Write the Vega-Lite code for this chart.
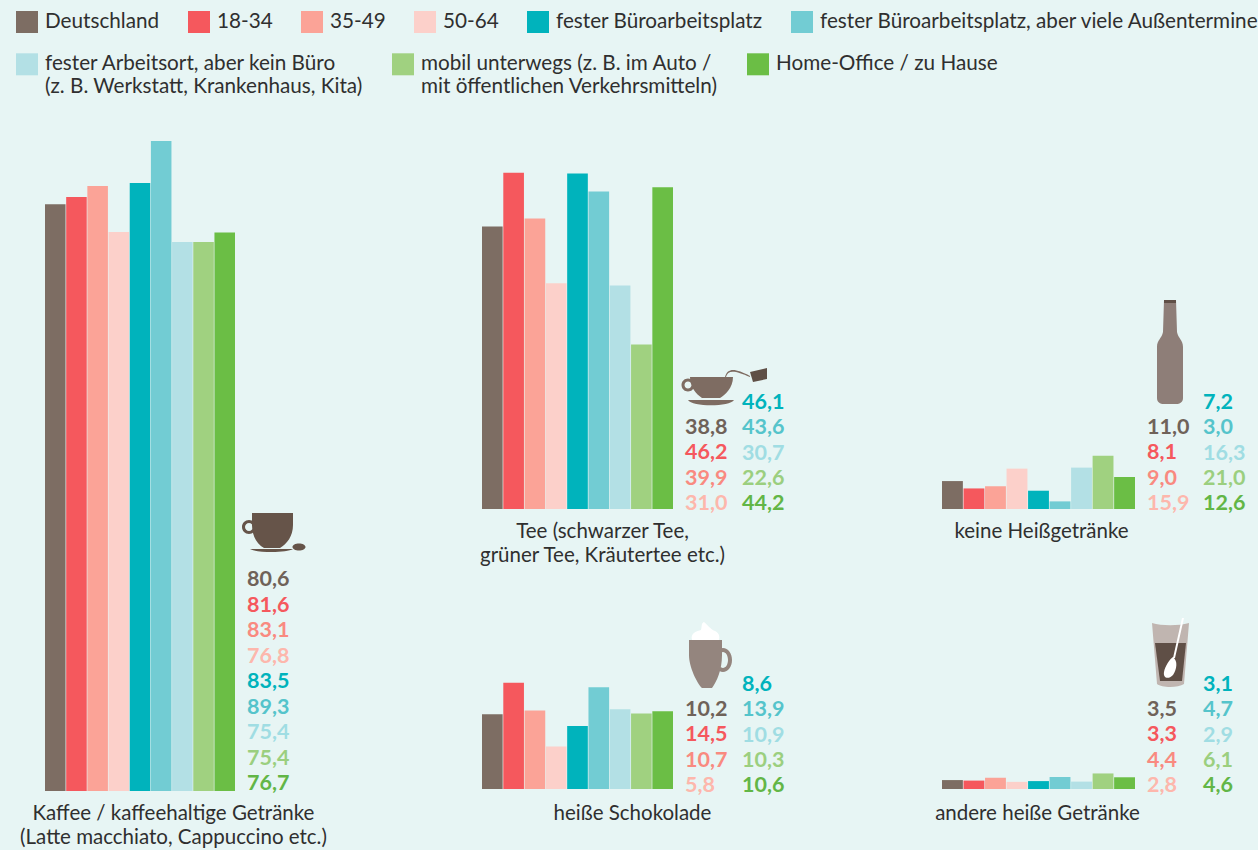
{"$schema":"https://vega.github.io/schema/vega-lite/v6.json","padding":{"left":16,"top":11,"right":2,"bottom":2},"background":"#e7f5f4","spacing":20,"resolve":{"scale":{"color":"shared","stroke":"shared"}},"config":{"font":"Lato","view":{"stroke":null},"axis":{"ticks":false,"labels":false,"domain":false,"grid":false,"titleFontWeight":"normal","titleFontSize":20.5,"titleColor":"#2f2f2f","titleLineHeight":24,"titleAlign":"center","titleBaseline":"alphabetic"},"text":{"fontWeight":"bold","fontSize":21.5,"align":"left","baseline":"middle"},"legend":{"orient":"none","legendX":-29,"direction":"horizontal","title":null,"symbolType":"square","symbolOpacity":1,"labelFontSize":20.7,"labelColor":"#2f2f2f","labelOffset":7,"labelLimit":600,"rowPadding":20,"labelBaseline":"middle"}},"datasets":{"werte":[
{"getraenk":"Kaffee","serie":"Deutschland","gruppe":"Gesamt und Alter","wert":80.6,"beschriftung":"80,6"},
{"getraenk":"Kaffee","serie":"18-34","gruppe":"Gesamt und Alter","wert":81.6,"beschriftung":"81,6"},
{"getraenk":"Kaffee","serie":"35-49","gruppe":"Gesamt und Alter","wert":83.1,"beschriftung":"83,1"},
{"getraenk":"Kaffee","serie":"50-64","gruppe":"Gesamt und Alter","wert":76.8,"beschriftung":"76,8"},
{"getraenk":"Kaffee","serie":"fester Büroarbeitsplatz","gruppe":"Arbeitsort","wert":83.5,"beschriftung":"83,5"},
{"getraenk":"Kaffee","serie":"fester Büroarbeitsplatz, aber viele Außentermine","gruppe":"Arbeitsort","wert":89.3,"beschriftung":"89,3"},
{"getraenk":"Kaffee","serie":"fester Arbeitsort, aber kein Büro","gruppe":"Arbeitsort","wert":75.4,"beschriftung":"75,4"},
{"getraenk":"Kaffee","serie":"mobil unterwegs","gruppe":"Arbeitsort","wert":75.4,"beschriftung":"75,4"},
{"getraenk":"Kaffee","serie":"Home-Office / zu Hause","gruppe":"Arbeitsort","wert":76.7,"beschriftung":"76,7"},
{"getraenk":"Tee","serie":"Deutschland","gruppe":"Gesamt und Alter","wert":38.8,"beschriftung":"38,8"},
{"getraenk":"Tee","serie":"18-34","gruppe":"Gesamt und Alter","wert":46.2,"beschriftung":"46,2"},
{"getraenk":"Tee","serie":"35-49","gruppe":"Gesamt und Alter","wert":39.9,"beschriftung":"39,9"},
{"getraenk":"Tee","serie":"50-64","gruppe":"Gesamt und Alter","wert":31.0,"beschriftung":"31,0"},
{"getraenk":"Tee","serie":"fester Büroarbeitsplatz","gruppe":"Arbeitsort","wert":46.1,"beschriftung":"46,1"},
{"getraenk":"Tee","serie":"fester Büroarbeitsplatz, aber viele Außentermine","gruppe":"Arbeitsort","wert":43.6,"beschriftung":"43,6"},
{"getraenk":"Tee","serie":"fester Arbeitsort, aber kein Büro","gruppe":"Arbeitsort","wert":30.7,"beschriftung":"30,7"},
{"getraenk":"Tee","serie":"mobil unterwegs","gruppe":"Arbeitsort","wert":22.6,"beschriftung":"22,6"},
{"getraenk":"Tee","serie":"Home-Office / zu Hause","gruppe":"Arbeitsort","wert":44.2,"beschriftung":"44,2"},
{"getraenk":"Schokolade","serie":"Deutschland","gruppe":"Gesamt und Alter","wert":10.2,"beschriftung":"10,2"},
{"getraenk":"Schokolade","serie":"18-34","gruppe":"Gesamt und Alter","wert":14.5,"beschriftung":"14,5"},
{"getraenk":"Schokolade","serie":"35-49","gruppe":"Gesamt und Alter","wert":10.7,"beschriftung":"10,7"},
{"getraenk":"Schokolade","serie":"50-64","gruppe":"Gesamt und Alter","wert":5.8,"beschriftung":"5,8"},
{"getraenk":"Schokolade","serie":"fester Büroarbeitsplatz","gruppe":"Arbeitsort","wert":8.6,"beschriftung":"8,6"},
{"getraenk":"Schokolade","serie":"fester Büroarbeitsplatz, aber viele Außentermine","gruppe":"Arbeitsort","wert":13.9,"beschriftung":"13,9"},
{"getraenk":"Schokolade","serie":"fester Arbeitsort, aber kein Büro","gruppe":"Arbeitsort","wert":10.9,"beschriftung":"10,9"},
{"getraenk":"Schokolade","serie":"mobil unterwegs","gruppe":"Arbeitsort","wert":10.3,"beschriftung":"10,3"},
{"getraenk":"Schokolade","serie":"Home-Office / zu Hause","gruppe":"Arbeitsort","wert":10.6,"beschriftung":"10,6"},
{"getraenk":"keine","serie":"Deutschland","gruppe":"Gesamt und Alter","wert":11.0,"beschriftung":"11,0"},
{"getraenk":"keine","serie":"18-34","gruppe":"Gesamt und Alter","wert":8.1,"beschriftung":"8,1"},
{"getraenk":"keine","serie":"35-49","gruppe":"Gesamt und Alter","wert":9.0,"beschriftung":"9,0"},
{"getraenk":"keine","serie":"50-64","gruppe":"Gesamt und Alter","wert":15.9,"beschriftung":"15,9"},
{"getraenk":"keine","serie":"fester Büroarbeitsplatz","gruppe":"Arbeitsort","wert":7.2,"beschriftung":"7,2"},
{"getraenk":"keine","serie":"fester Büroarbeitsplatz, aber viele Außentermine","gruppe":"Arbeitsort","wert":3.0,"beschriftung":"3,0"},
{"getraenk":"keine","serie":"fester Arbeitsort, aber kein Büro","gruppe":"Arbeitsort","wert":16.3,"beschriftung":"16,3"},
{"getraenk":"keine","serie":"mobil unterwegs","gruppe":"Arbeitsort","wert":21.0,"beschriftung":"21,0"},
{"getraenk":"keine","serie":"Home-Office / zu Hause","gruppe":"Arbeitsort","wert":12.6,"beschriftung":"12,6"},
{"getraenk":"andere","serie":"Deutschland","gruppe":"Gesamt und Alter","wert":3.5,"beschriftung":"3,5"},
{"getraenk":"andere","serie":"18-34","gruppe":"Gesamt und Alter","wert":3.3,"beschriftung":"3,3"},
{"getraenk":"andere","serie":"35-49","gruppe":"Gesamt und Alter","wert":4.4,"beschriftung":"4,4"},
{"getraenk":"andere","serie":"50-64","gruppe":"Gesamt und Alter","wert":2.8,"beschriftung":"2,8"},
{"getraenk":"andere","serie":"fester Büroarbeitsplatz","gruppe":"Arbeitsort","wert":3.1,"beschriftung":"3,1"},
{"getraenk":"andere","serie":"fester Büroarbeitsplatz, aber viele Außentermine","gruppe":"Arbeitsort","wert":4.7,"beschriftung":"4,7"},
{"getraenk":"andere","serie":"fester Arbeitsort, aber kein Büro","gruppe":"Arbeitsort","wert":2.9,"beschriftung":"2,9"},
{"getraenk":"andere","serie":"mobil unterwegs","gruppe":"Arbeitsort","wert":6.1,"beschriftung":"6,1"},
{"getraenk":"andere","serie":"Home-Office / zu Hause","gruppe":"Arbeitsort","wert":4.6,"beschriftung":"4,6"}
]},
"hconcat":[
{"width":413,"height":655,"data":{"name":"werte"},"transform":[{"filter":"datum.getraenk==='Kaffee'"}],"resolve":{"scale":{"x":"independent","y":"independent"}},"layer":[
{"mark":{"type":"bar","strokeWidth":0},"encoding":{"x":{"field":"serie","type":"nominal","sort":null,"scale":{"range":[0,190],"paddingInner":0.03,"paddingOuter":0},"axis":{"title":["Kaffee / kaffeehaltige Getränke","(Latte macchiato, Cappuccino etc.)"],"titleX":128,"titleY":28}},"y":{"field":"wert","type":"quantitative","scale":{"domain":[0,89.97],"nice":false},"axis":null},
"color":{"field":"serie","type":"nominal","sort":null,"scale":{"domain":["Deutschland","18-34","35-49","50-64","fester Büroarbeitsplatz","fester Büroarbeitsplatz, aber viele Außentermine","fester Arbeitsort, aber kein Büro","mobil unterwegs","Home-Office / zu Hause"],"range":["#7d6d63","#f5585d","#fba397","#fcd0ca","#00b3bc","#72ccd3","#b3e0e5","#a0d180","#6bbe45"]},"legend":{"values":["Deutschland","18-34","35-49","50-64","fester Büroarbeitsplatz","fester Büroarbeitsplatz, aber viele Außentermine"],"columns":6,"columnPadding":28,"legendY":-125,"symbolSize":484,"symbolStrokeWidth":0}},
"stroke":{"field":"serie","type":"nominal","sort":null,"scale":{"domain":["fester Arbeitsort, aber kein Büro","mobil unterwegs","Home-Office / zu Hause","Deutschland","18-34","35-49","50-64","fester Büroarbeitsplatz","fester Büroarbeitsplatz, aber viele Außentermine"],"range":["#b3e0e5","#a0d180","#6bbe45","#7d6d63","#f5585d","#fba397","#fcd0ca","#00b3bc","#72ccd3"]},"legend":{"values":["fester Arbeitsort, aber kein Büro","mobil unterwegs","Home-Office / zu Hause"],"columns":3,"columnPadding":12,"legendY":-83,"symbolSize":121,"symbolStrokeWidth":11,"encode":{"labels":{"update":{"lineHeight":{"value":25}}}},"labelExpr":"datum.label==='fester Arbeitsort, aber kein Büro'?['fester Arbeitsort, aber kein Büro','(z. B. Werkstatt, Krankenhaus, Kita)']:datum.label==='mobil unterwegs'?['mobil unterwegs (z. B. im Auto /','mit öffentlichen Verkehrsmitteln)']:[datum.label,' ']"}}}},
{"mark":{"type":"text"},"encoding":{"x":{"field":"getraenk","type":"nominal","scale":{"type":"point","range":[202,202],"padding":0},"axis":null},"y":{"field":"serie","type":"nominal","sort":null,"scale":{"type":"point","range":[444,648],"padding":0},"axis":null},"text":{"field":"beschriftung"},"fill":{"field":"serie","type":"nominal","sort":null,"scale":{"domain":["Deutschland","18-34","35-49","50-64","fester Büroarbeitsplatz","fester Büroarbeitsplatz, aber viele Außentermine","fester Arbeitsort, aber kein Büro","mobil unterwegs","Home-Office / zu Hause"],"range":["#6f6259","#f5585d","#f98a80","#fdb7ac","#00b3bc","#55c4cb","#a0dde3","#9bcf7f","#62b646"]},"legend":null}}},
{"data":{"values":[{"symbol":"Kaffeetasse"}]},"transform":[],"encoding":{"x":{"field":"symbol","type":"nominal","scale":{"type":"point","range":[227,227],"padding":0},"axis":null},"y":{"field":"symbol","type":"nominal","scale":{"type":"point","range":[397,397],"padding":0},"axis":null}},"mark":{"type":"point","filled":true,"opacity":1,"size":4,"color":"#665449","shape":"M-20,-20 L21,-20 L21,-8 C21,3 15,11 8,15 L-8,15 C-15,11 -20,3 -20,-8 Z M-30,-6 A7,7 0 1 1 -16,-6 A7,7 0 1 1 -30,-6 Z M-27,-6 A4,4 0 1 0 -19,-6 A4,4 0 1 0 -27,-6 Z M-22,16 L21,16 C15,20 -15,20 -22,16 Z M20.5,14 A6.5,3.5 0 1 1 33.5,14 A6.5,3.5 0 1 1 20.5,14 Z"}}
]},
{"vconcat":[
{"width":432,"height":373,"data":{"name":"werte"},"transform":[{"filter":"datum.getraenk==='Tee'"}],"resolve":{"scale":{"x":"independent","y":"independent"}},"layer":[
{"mark":{"type":"bar"},"encoding":{"x":{"field":"serie","type":"nominal","sort":null,"scale":{"range":[0,191],"paddingInner":0.03,"paddingOuter":0},"axis":{"title":["Tee (schwarzer Tee,","grüner Tee, Kräutertee etc.)"],"titleX":120,"titleY":28}},"y":{"field":"wert","type":"quantitative","scale":{"domain":[0,51.24],"nice":false},"axis":null},"color":{"field":"serie","type":"nominal","sort":null,"legend":null}}},
{"transform":[{"filter":"datum.gruppe==='Gesamt und Alter'"}],"mark":{"type":"text"},"encoding":{"x":{"field":"gruppe","type":"nominal","scale":{"type":"point","domain":["Gesamt und Alter","Arbeitsort"],"range":[203,260],"padding":0},"axis":null},"y":{"field":"serie","type":"nominal","sort":null,"scale":{"type":"point","range":[292,368],"padding":0},"axis":null},"text":{"field":"beschriftung"},"fill":{"field":"serie","type":"nominal","sort":null,"scale":{"domain":["Deutschland","18-34","35-49","50-64","fester Büroarbeitsplatz","fester Büroarbeitsplatz, aber viele Außentermine","fester Arbeitsort, aber kein Büro","mobil unterwegs","Home-Office / zu Hause"],"range":["#6f6259","#f5585d","#f98a80","#fdb7ac","#00b3bc","#55c4cb","#a0dde3","#9bcf7f","#62b646"]},"legend":null}}},
{"transform":[{"filter":"datum.gruppe==='Arbeitsort'"}],"mark":{"type":"text"},"encoding":{"x":{"field":"gruppe","type":"nominal","scale":{"type":"point","domain":["Gesamt und Alter","Arbeitsort"],"range":[203,260],"padding":0},"axis":null},"y":{"field":"serie","type":"nominal","sort":null,"scale":{"type":"point","range":[267,368],"padding":0},"axis":null},"text":{"field":"beschriftung"},"fill":{"field":"serie","type":"nominal","sort":null,"scale":{"domain":["Deutschland","18-34","35-49","50-64","fester Büroarbeitsplatz","fester Büroarbeitsplatz, aber viele Außentermine","fester Arbeitsort, aber kein Büro","mobil unterwegs","Home-Office / zu Hause"],"range":["#6f6259","#f5585d","#f98a80","#fdb7ac","#00b3bc","#55c4cb","#a0dde3","#9bcf7f","#62b646"]},"legend":null}}},
{"data":{"values":[{"symbol":"Teetasse"}]},"transform":[],"encoding":{"x":{"field":"symbol","type":"nominal","scale":{"type":"point","range":[228,228],"padding":0},"axis":null},"y":{"field":"symbol","type":"nominal","scale":{"type":"point","range":[249,249],"padding":0},"axis":null}},"layer":[
{"mark":{"type":"point","filled":true,"opacity":1,"size":4,"color":"#7e6c62","shape":"M-20,-8 L23,-8 C23,3 15,10 10,13 L-8,13 C-14,9 -20,2 -20,-8 Z M-28.5,0 A6.5,6.5 0 1 1 -15.5,0 A6.5,6.5 0 1 1 -28.5,0 Z M-25.5,0 A3.5,3.5 0 1 0 -18.5,0 A3.5,3.5 0 1 0 -25.5,0 Z M-22,15 L24,15 C20,22 -18,22 -22,15 Z M15,-8 C18,-18 26,-16 40,-9 L40,-8 C26,-14 18,-16 16,-8 Z"}},
{"mark":{"type":"point","filled":true,"opacity":1,"size":4,"color":"#5f4f46","shape":"M40,-13 L57,-17 L57,-6 L43,-3 Z"}}
]}
]},
{"width":432,"height":170,"data":{"name":"werte"},"transform":[{"filter":"datum.getraenk==='Schokolade'"}],"resolve":{"scale":{"x":"independent","y":"independent"}},"layer":[
{"mark":{"type":"bar"},"encoding":{"x":{"field":"serie","type":"nominal","sort":null,"scale":{"range":[0,191],"paddingInner":0.03,"paddingOuter":0},"axis":{"title":"heiße Schokolade","titleX":150,"titleY":30}},"y":{"field":"wert","type":"quantitative","scale":{"domain":[0,23.2],"nice":false},"axis":null},"color":{"field":"serie","type":"nominal","sort":null,"legend":null}}},
{"transform":[{"filter":"datum.gruppe==='Gesamt und Alter'"}],"mark":{"type":"text"},"encoding":{"x":{"field":"gruppe","type":"nominal","scale":{"type":"point","domain":["Gesamt und Alter","Arbeitsort"],"range":[203,260],"padding":0},"axis":null},"y":{"field":"serie","type":"nominal","sort":null,"scale":{"type":"point","range":[91,167],"padding":0},"axis":null},"text":{"field":"beschriftung"},"fill":{"field":"serie","type":"nominal","sort":null,"scale":{"domain":["Deutschland","18-34","35-49","50-64","fester Büroarbeitsplatz","fester Büroarbeitsplatz, aber viele Außentermine","fester Arbeitsort, aber kein Büro","mobil unterwegs","Home-Office / zu Hause"],"range":["#6f6259","#f5585d","#f98a80","#fdb7ac","#00b3bc","#55c4cb","#a0dde3","#9bcf7f","#62b646"]},"legend":null}}},
{"transform":[{"filter":"datum.gruppe==='Arbeitsort'"}],"mark":{"type":"text"},"encoding":{"x":{"field":"gruppe","type":"nominal","scale":{"type":"point","domain":["Gesamt und Alter","Arbeitsort"],"range":[203,260],"padding":0},"axis":null},"y":{"field":"serie","type":"nominal","sort":null,"scale":{"type":"point","range":[66,167],"padding":0},"axis":null},"text":{"field":"beschriftung"},"fill":{"field":"serie","type":"nominal","sort":null,"scale":{"domain":["Deutschland","18-34","35-49","50-64","fester Büroarbeitsplatz","fester Büroarbeitsplatz, aber viele Außentermine","fester Arbeitsort, aber kein Büro","mobil unterwegs","Home-Office / zu Hause"],"range":["#6f6259","#f5585d","#f98a80","#fdb7ac","#00b3bc","#55c4cb","#a0dde3","#9bcf7f","#62b646"]},"legend":null}}},
{"data":{"values":[{"symbol":"Becher"}]},"transform":[],"encoding":{"x":{"field":"symbol","type":"nominal","scale":{"type":"point","range":[223,223],"padding":0},"axis":null},"y":{"field":"symbol","type":"nominal","scale":{"type":"point","range":[36,36],"padding":0},"axis":null}},"layer":[
{"mark":{"type":"point","filled":true,"opacity":1,"size":4,"color":"#94857e","shape":"M-16,-15 L17,-15 L17,0 C17,15 12,26 7,33 L-3,33 C-8,28 -16,12 -16,0 Z M9,5 A9,12 0 1 1 27,5 A9,12 0 1 1 9,5 Z M13,5 A5,8 0 1 0 23,5 A5,8 0 1 0 13,5 Z"}},
{"mark":{"type":"point","filled":true,"opacity":1,"size":4,"color":"#ffffff","shape":"M-13,-15 C-15,-22 -8,-24 -4,-25 C-3,-28 -4,-32 -1,-33 C3,-30 5,-26 10,-24 C14,-22 15,-19 14,-15 Z"}}
]}
]}
],"spacing":53},
{"vconcat":[
{"width":300,"height":373,"data":{"name":"werte"},"transform":[{"filter":"datum.getraenk==='keine'"}],"resolve":{"scale":{"x":"independent","y":"independent"}},"layer":[
{"mark":{"type":"bar"},"encoding":{"x":{"field":"serie","type":"nominal","sort":null,"scale":{"range":[0,193],"paddingInner":0.03,"paddingOuter":0},"axis":{"title":"keine Heißgetränke","titleX":99,"titleY":28}},"y":{"field":"wert","type":"quantitative","scale":{"domain":[0,146.9],"nice":false},"axis":null},"color":{"field":"serie","type":"nominal","sort":null,"legend":null}}},
{"transform":[{"filter":"datum.gruppe==='Gesamt und Alter'"}],"mark":{"type":"text"},"encoding":{"x":{"field":"gruppe","type":"nominal","scale":{"type":"point","domain":["Gesamt und Alter","Arbeitsort"],"range":[205,261],"padding":0},"axis":null},"y":{"field":"serie","type":"nominal","sort":null,"scale":{"type":"point","range":[292,368],"padding":0},"axis":null},"text":{"field":"beschriftung"},"fill":{"field":"serie","type":"nominal","sort":null,"scale":{"domain":["Deutschland","18-34","35-49","50-64","fester Büroarbeitsplatz","fester Büroarbeitsplatz, aber viele Außentermine","fester Arbeitsort, aber kein Büro","mobil unterwegs","Home-Office / zu Hause"],"range":["#6f6259","#f5585d","#f98a80","#fdb7ac","#00b3bc","#55c4cb","#a0dde3","#9bcf7f","#62b646"]},"legend":null}}},
{"transform":[{"filter":"datum.gruppe==='Arbeitsort'"}],"mark":{"type":"text"},"encoding":{"x":{"field":"gruppe","type":"nominal","scale":{"type":"point","domain":["Gesamt und Alter","Arbeitsort"],"range":[205,261],"padding":0},"axis":null},"y":{"field":"serie","type":"nominal","sort":null,"scale":{"type":"point","range":[267,368],"padding":0},"axis":null},"text":{"field":"beschriftung"},"fill":{"field":"serie","type":"nominal","sort":null,"scale":{"domain":["Deutschland","18-34","35-49","50-64","fester Büroarbeitsplatz","fester Büroarbeitsplatz, aber viele Außentermine","fester Arbeitsort, aber kein Büro","mobil unterwegs","Home-Office / zu Hause"],"range":["#6f6259","#f5585d","#f98a80","#fdb7ac","#00b3bc","#55c4cb","#a0dde3","#9bcf7f","#62b646"]},"legend":null}}},
{"data":{"values":[{"symbol":"Flasche"}]},"transform":[],"encoding":{"x":{"field":"symbol","type":"nominal","scale":{"type":"point","range":[228,228],"padding":0},"axis":null},"y":{"field":"symbol","type":"nominal","scale":{"type":"point","range":[216,216],"padding":0},"axis":null}},"layer":[
{"mark":{"type":"point","filled":true,"opacity":1,"size":4,"color":"#8e7e78","shape":"M-6,-52 L6,-52 L7,-20 C8,-14 13,-12 13,-5 L13,46 C13,50 10,52 6,52 L-6,52 C-10,52 -13,50 -13,46 L-13,-5 C-13,-12 -8,-14 -7,-20 Z"}},
{"mark":{"type":"point","filled":true,"opacity":1,"size":4,"color":"#5f4f46","shape":"M-6,-52 L6,-52 L6,-49 L-6,-49 Z"}}
]}
]},
{"width":300,"height":170,"data":{"name":"werte"},"transform":[{"filter":"datum.getraenk==='andere'"}],"resolve":{"scale":{"x":"independent","y":"independent"}},"layer":[
{"mark":{"type":"bar"},"encoding":{"x":{"field":"serie","type":"nominal","sort":null,"scale":{"range":[0,193],"paddingInner":0.03,"paddingOuter":0},"axis":{"title":"andere heiße Getränke","titleX":95,"titleY":30}},"y":{"field":"wert","type":"quantitative","scale":{"domain":[0,66.7],"nice":false},"axis":null},"color":{"field":"serie","type":"nominal","sort":null,"legend":null}}},
{"transform":[{"filter":"datum.gruppe==='Gesamt und Alter'"}],"mark":{"type":"text"},"encoding":{"x":{"field":"gruppe","type":"nominal","scale":{"type":"point","domain":["Gesamt und Alter","Arbeitsort"],"range":[205,261],"padding":0},"axis":null},"y":{"field":"serie","type":"nominal","sort":null,"scale":{"type":"point","range":[91,167],"padding":0},"axis":null},"text":{"field":"beschriftung"},"fill":{"field":"serie","type":"nominal","sort":null,"scale":{"domain":["Deutschland","18-34","35-49","50-64","fester Büroarbeitsplatz","fester Büroarbeitsplatz, aber viele Außentermine","fester Arbeitsort, aber kein Büro","mobil unterwegs","Home-Office / zu Hause"],"range":["#6f6259","#f5585d","#f98a80","#fdb7ac","#00b3bc","#55c4cb","#a0dde3","#9bcf7f","#62b646"]},"legend":null}}},
{"transform":[{"filter":"datum.gruppe==='Arbeitsort'"}],"mark":{"type":"text"},"encoding":{"x":{"field":"gruppe","type":"nominal","scale":{"type":"point","domain":["Gesamt und Alter","Arbeitsort"],"range":[205,261],"padding":0},"axis":null},"y":{"field":"serie","type":"nominal","sort":null,"scale":{"type":"point","range":[66,167],"padding":0},"axis":null},"text":{"field":"beschriftung"},"fill":{"field":"serie","type":"nominal","sort":null,"scale":{"domain":["Deutschland","18-34","35-49","50-64","fester Büroarbeitsplatz","fester Büroarbeitsplatz, aber viele Außentermine","fester Arbeitsort, aber kein Büro","mobil unterwegs","Home-Office / zu Hause"],"range":["#6f6259","#f5585d","#f98a80","#fdb7ac","#00b3bc","#55c4cb","#a0dde3","#9bcf7f","#62b646"]},"legend":null}}},
{"data":{"values":[{"symbol":"Glas"}]},"transform":[],"encoding":{"x":{"field":"symbol","type":"nominal","scale":{"type":"point","range":[228,228],"padding":0},"axis":null},"y":{"field":"symbol","type":"nominal","scale":{"type":"point","range":[36,36],"padding":0},"axis":null}},"layer":[
{"mark":{"type":"point","filled":true,"opacity":1,"size":4,"color":"#c0b5b0","shape":"M-18,-32 C-8,-29 8,-29 19,-32 L14,29 C8,33 -8,33 -13,29 Z"}},
{"mark":{"type":"point","filled":true,"opacity":1,"size":4,"color":"#5f4f46","shape":"M-15,-12 L16,-12 L12,26 L-10,26 Z"}},
{"mark":{"type":"point","filled":true,"opacity":1,"size":4,"color":"#ffffff","shape":"M12,-37 L14,-37 L5,3 L3,3 Z M3,2 C8,6 7,14 3,20 C-2,25 -7,23 -6,17 C-5,11 0,4 3,2 Z"}}
]}
]}
],"spacing":76}
]}
